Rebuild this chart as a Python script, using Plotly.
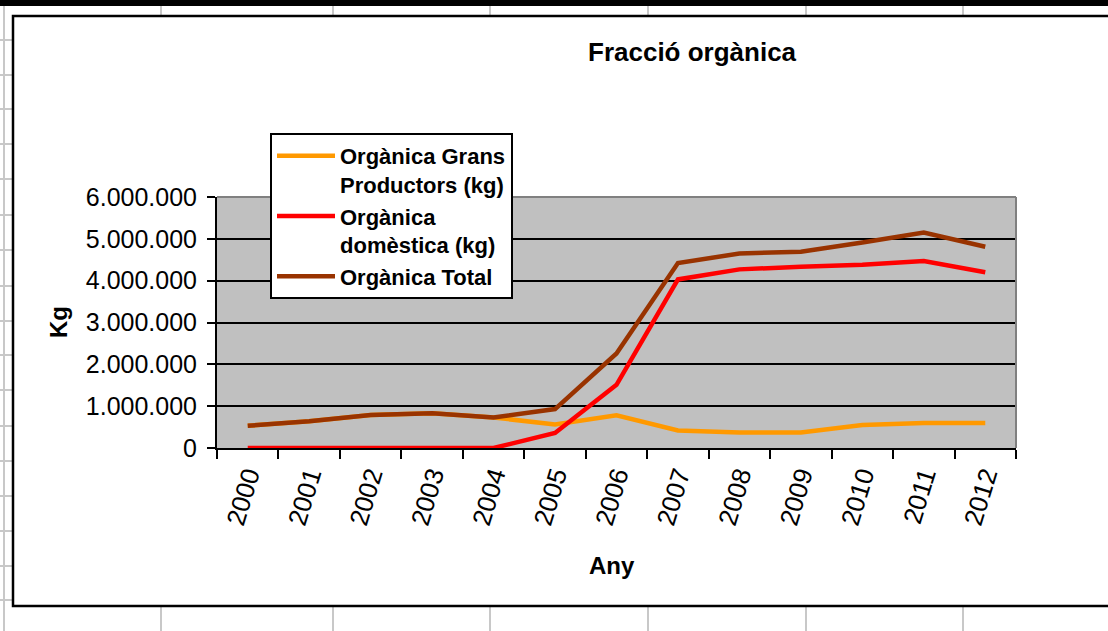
import plotly.graph_objects as go

# data
anys = ['2000', '2001', '2002', '2003', '2004', '2005', '2006',
        '2007', '2008', '2009', '2010', '2011', '2012']
grans_productors = [530000, 640000, 790000, 830000, 730000, 560000, 780000,
                    420000, 370000, 370000, 550000, 600000, 600000]
domestica = [0, 0, 0, 0, 0, 360000, 1510000,
             4030000, 4270000, 4330000, 4380000, 4470000, 4200000]
total = [530000, 640000, 790000, 830000, 730000, 930000, 2260000,
         4420000, 4650000, 4690000, 4910000, 5150000, 4810000]

series_names = ['Orgànica Grans<br>Productors (kg)', 'Orgànica<br>domèstica (kg)', 'Orgànica Total']
series_colors = ['#FF9900', '#FF0000', '#993300']

W, H = 1108, 631
PL, PR, PT, PB = 217, 1016, 197, 448  # plot area in pixels

FONT = 'Liberation Sans, Arial, sans-serif'


def px_x(px):
    return (px - PL) / (PR - PL)


def px_y(py):
    return (PB - py) / (PB - PT)


fig = go.Figure()
for name, vals, col in zip(series_names, [grans_productors, domestica, total], series_colors):
    fig.add_trace(go.Scatter(x=anys, y=vals, name=name, mode='lines',
                             line=dict(color=col, width=4.5)))

# spreadsheet background decoration (cells behind the chart)
shapes = []
grey = '#C8C8C8'
shapes.append(dict(type='rect', xref='paper', yref='paper', x0=px_x(-5), x1=px_x(W + 5),
                   y0=px_y(0), y1=px_y(6), fillcolor='black', line=dict(width=0)))
shapes.append(dict(type='line', xref='paper', yref='paper', x0=px_x(4), x1=px_x(4),
                   y0=px_y(6), y1=px_y(H), line=dict(color=grey, width=2)))
for cx in [161, 333, 490, 648, 806, 963]:
    shapes.append(dict(type='line', xref='paper', yref='paper', x0=px_x(cx), x1=px_x(cx),
                       y0=px_y(6), y1=px_y(16), line=dict(color=grey, width=2)))
    shapes.append(dict(type='line', xref='paper', yref='paper', x0=px_x(cx), x1=px_x(cx),
                       y0=px_y(607), y1=px_y(H), line=dict(color=grey, width=2)))
for ry in [40, 75, 109, 144, 179, 215, 250, 286, 321, 355, 390, 426, 461, 496, 531, 566, 600]:
    shapes.append(dict(type='line', xref='paper', yref='paper', x0=px_x(0), x1=px_x(13),
                       y0=px_y(ry), y1=px_y(ry), line=dict(color=grey, width=2)))
# chart frame (right side runs off the page)
shapes.append(dict(type='rect', xref='paper', yref='paper', x0=px_x(13), x1=px_x(W + 20),
                   y0=px_y(16), y1=px_y(606), line=dict(color='black', width=2.5)))
# plot area border on top and right
shapes.append(dict(type='line', xref='paper', yref='paper', x0=0, x1=1, y0=1, y1=1,
                   line=dict(color='#808080', width=2), layer='above'))
shapes.append(dict(type='line', xref='paper', yref='paper', x0=1, x1=1, y0=0, y1=1,
                   line=dict(color='#808080', width=2), layer='above'))

annotations = [
    dict(text='<b>Fracció orgànica</b>', xref='paper', yref='paper', x=px_x(692), y=px_y(52),
         xanchor='center', yanchor='middle', showarrow=False,
         font=dict(family=FONT, size=26, color='black')),
    dict(text='<b>Kg</b>', xref='paper', yref='paper', x=px_x(58), y=px_y(322), textangle=-90,
         xanchor='center', yanchor='middle', showarrow=False,
         font=dict(family=FONT, size=24, color='black')),
    dict(text='<b>Any</b>', xref='paper', yref='paper', x=px_x(612), y=px_y(565),
         xanchor='center', yanchor='middle', showarrow=False,
         font=dict(family=FONT, size=24, color='black')),
]

fig.update_layout(
    width=W, height=H,
    margin=dict(l=PL, r=W - PR, t=PT, b=H - PB),
    paper_bgcolor='white',
    plot_bgcolor='#C0C0C0',
    separators=',.',
    font=dict(family=FONT, color='black'),
    shapes=shapes,
    annotations=annotations,
    showlegend=True,
    legend=dict(x=px_x(270), y=px_y(133), xanchor='left', yanchor='top',
                bgcolor='white', bordercolor='black', borderwidth=2,
                valign='top', tracegroupgap=0, itemwidth=58,
                font=dict(family=FONT, size=22, color='black', weight='bold')),
    xaxis=dict(type='category', range=[-0.5, 12.5], tickson='boundaries',
               ticks='outside', ticklen=9, tickwidth=2, tickcolor='black',
               showline=True, linecolor='black', linewidth=2,
               showgrid=False, tickangle=-73,
               tickfont=dict(family=FONT, size=26, color='black')),
    yaxis=dict(range=[0, 6000000], dtick=1000000, tickformat=',d',
               ticks='outside', ticklen=8, tickwidth=2, tickcolor='black',
               showline=True, linecolor='black', linewidth=2, ticklabelstandoff=5,
               showgrid=True, gridcolor='black', gridwidth=2, zeroline=False,
               tickfont=dict(family=FONT, size=25, color='black')),
)

fig.write_html('out.html', config={'displayModeBar': False},
               post_script="document.body.style.margin='0px';")
